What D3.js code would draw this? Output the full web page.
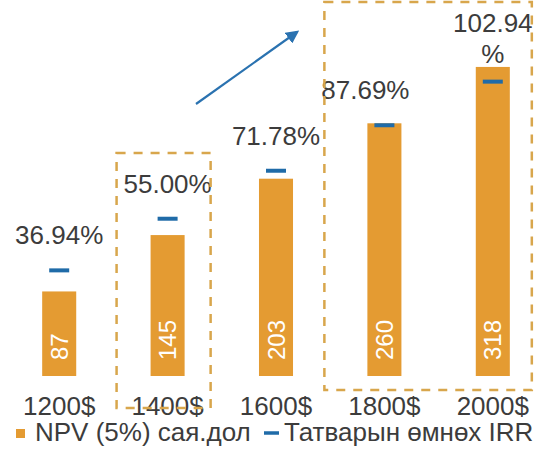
<!DOCTYPE html>
<html>
<head>
<meta charset="utf-8">
<script src="https://cdn.jsdelivr.net/npm/d3@7"></script>
<style>
  html, body { margin: 0; padding: 0; background: #ffffff; }
  svg { display: block; font-family: "Liberation Sans", Arial, sans-serif; }
</style>
</head>
<body>
<div id="chart"></div>
<script>
// ---- data ----
const categories = ["1200$", "1400$", "1600$", "1800$", "2000$"];
const npvValues = [87, 145, 203, 260, 318];           // NPV (5%) сая.дол
const irrValues = [36.94, 55.00, 71.78, 87.69, 102.94]; // Татварын өмнөх IRR, %
const irrLabels = ["36.94%", "55.00%", "71.78%", "87.69%", "102.94%"];
const seriesNames = ["NPV (5%) сая.дол", "Татварын өмнөх IRR"];

// ---- layout ----
const W = 549, H = 456;
const baseY = 376, topY = 30;
const barColor = "#E49B32";
const irrColor = "#1F6BA8";
const textColor = "#3c3c3c";
const boxColor = "#D8A64C";

const svg = d3.select("#chart").append("svg")
  .attr("width", W).attr("height", H);

const x = d3.scaleBand().domain(categories).range([5, 547])
  .paddingInner(0.686).paddingOuter(0.343);
const yL = d3.scaleLinear().domain([0, 356]).range([baseY, topY]);
const yR = d3.scaleLinear().domain([0, 121]).range([baseY, topY]);

const data = categories.map((c, i) => ({ cat: c, npv: npvValues[i], irr: irrValues[i], label: irrLabels[i], i }));

// defs: arrowhead
svg.append("defs").append("marker")
  .attr("id", "arrowhead").attr("viewBox", "0 0 10 10")
  .attr("refX", 8).attr("refY", 5)
  .attr("markerWidth", 6).attr("markerHeight", 6)
  .attr("markerUnits", "strokeWidth")
  .attr("orient", "auto")
  .append("path").attr("d", "M0,0 L10,5 L0,10 z").attr("fill", "#2A72B0");

// bars
svg.append("g").selectAll("rect").data(data).join("rect")
  .attr("x", d => x(d.cat))
  .attr("y", d => yL(d.npv))
  .attr("width", x.bandwidth())
  .attr("height", d => yL(0) - yL(d.npv))
  .attr("fill", barColor);

// bar value labels (rotated, white)
svg.append("g").selectAll("text").data(data).join("text")
  .attr("transform", d => `translate(${x(d.cat) + x.bandwidth() / 2},${baseY - 16}) rotate(-90)`)
  .attr("dy", "0.36em")
  .attr("text-anchor", "start")
  .attr("fill", "#ffffff")
  .attr("font-size", 24)
  .text(d => d.npv);

// IRR markers (dash)
svg.append("g").selectAll("line").data(data).join("line")
  .attr("x1", d => x(d.cat) + x.bandwidth() / 2 - 10)
  .attr("x2", d => x(d.cat) + x.bandwidth() / 2 + 10)
  .attr("y1", d => yR(d.irr))
  .attr("y2", d => yR(d.irr))
  .attr("stroke", irrColor)
  .attr("stroke-width", 4);

// IRR labels
const labelDx = [0, 0, 0, -19, 0];
const lab = svg.append("g").selectAll("text").data(data).join("text")
  .attr("x", d => x(d.cat) + x.bandwidth() / 2 + labelDx[d.i])
  .attr("y", d => yR(d.irr) - 26)
  .attr("text-anchor", "middle")
  .attr("fill", textColor)
  .attr("font-size", 26);
lab.each(function(d) {
  const t = d3.select(this);
  if (d.i === data.length - 1) {
    const cx = x(d.cat) + x.bandwidth() / 2;
    const num = d.label.replace("%", "");
    t.attr("y", yR(d.irr) - 50);
    t.append("tspan").attr("x", cx).text(num);
    t.append("tspan").attr("x", cx).attr("dy", 31).text("%");
  } else {
    t.text(d.label);
  }
});

// x axis
const xAxis = svg.append("g").attr("transform", `translate(0,${baseY})`)
  .call(d3.axisBottom(x).tickSize(0).tickPadding(21));
xAxis.select(".domain").remove();
xAxis.selectAll("text")
  .attr("font-size", 26)
  .attr("font-family", "'Liberation Sans', Arial, sans-serif")
  .attr("fill", textColor);

// dashed highlight boxes
const bw = x.bandwidth();
const boxes = [
  { x0: x("1400$") - 34, x1: x("1400$") + bw + 26, y0: 153, y1: 408 },
  { x0: x("1800$") - 43, x1: x("2000$") + bw + 22, y0: 2, y1: 390 }
];
svg.append("g").selectAll("rect").data(boxes).join("rect")
  .attr("x", d => d.x0).attr("y", d => d.y0)
  .attr("width", d => d.x1 - d.x0).attr("height", d => d.y1 - d.y0)
  .attr("fill", "none")
  .attr("stroke", boxColor)
  .attr("stroke-width", 2.5)
  .attr("stroke-dasharray", "9,8");

// trend arrow
svg.append("line")
  .attr("x1", 196).attr("y1", 104)
  .attr("x2", 297).attr("y2", 32)
  .attr("stroke", "#2A72B0")
  .attr("stroke-width", 2.2)
  .attr("marker-end", "url(#arrowhead)");

// legend
const leg = svg.append("g");
leg.append("rect").attr("x", 16).attr("y", 429).attr("width", 9).attr("height", 9).attr("fill", barColor);
leg.append("text").attr("x", 35).attr("y", 441).attr("font-size", 26).attr("fill", textColor).text(seriesNames[0]);
leg.append("line").attr("x1", 264).attr("x2", 279).attr("y1", 433).attr("y2", 433)
  .attr("stroke", irrColor).attr("stroke-width", 3.5);
leg.append("text").attr("x", 284).attr("y", 441).attr("font-size", 26).attr("fill", textColor).text(seriesNames[1]);
</script>
</body>
</html>
